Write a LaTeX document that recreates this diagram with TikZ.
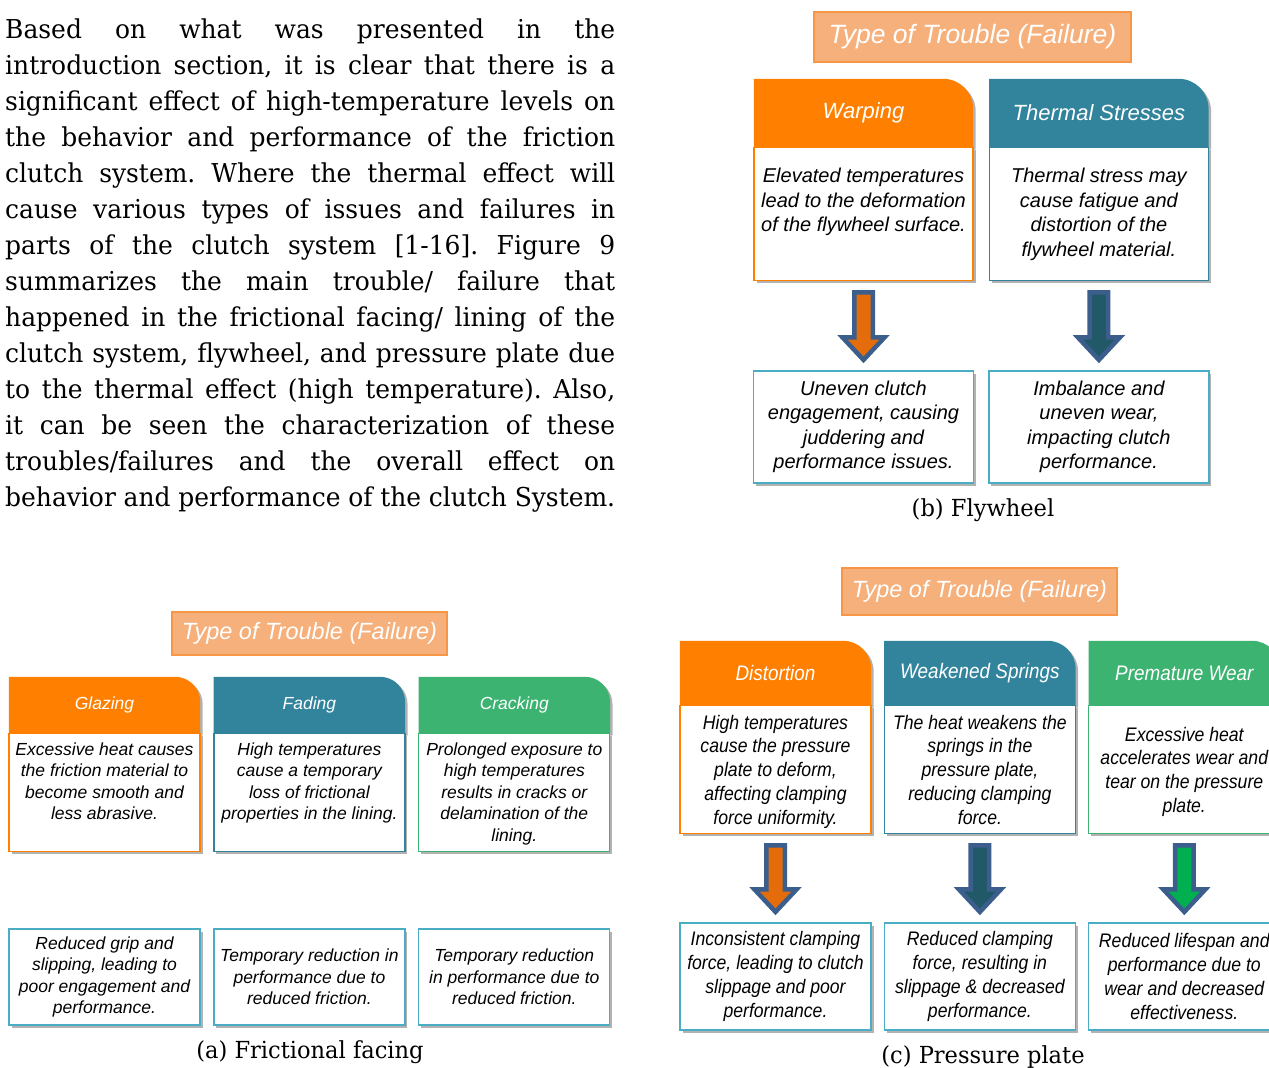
\documentclass[tikz,border=0pt]{standalone}
\usepackage{fontspec}
\setmainfont[FakeStretch=0.96]{DejaVu Serif}
\newfontfamily\cardsans{Liberation Sans}
\newfontfamily\cardnarrow[FakeStretch=0.9]{Liberation Sans}
\usepackage{xcolor}
\usepackage{tikz}
\usetikzlibrary{
    positioning,
    calc,
    backgrounds,
    shadows
}
\frenchspacing
\definecolor{trorange}{HTML}{FF8000}
\definecolor{trteal}{HTML}{31849B}
\definecolor{trgreen}{HTML}{3CB371}
\definecolor{trtitle}{HTML}{F5B07C}
\definecolor{trtitleedge}{HTML}{F79646}
\definecolor{trblue}{HTML}{4BACC6}
\definecolor{trarrow}{HTML}{3B5E8C}
\definecolor{trarroworange}{HTML}{E46C0A}
\definecolor{trarrowteal}{HTML}{215968}
\definecolor{trarrowgreen}{HTML}{00B050}
\tikzset{
    % Line of the text column
    paraline/.style={
        anchor=base west,
        inner sep=0pt,
        font=\fontsize{26}{36}\selectfont
    },
    % Sub-figure caption
    subcaption/.style={
        inner sep=0pt,
        font=\fontsize{23.5}{27}\selectfont
    },
    % Soft shadow
    cardshadow/.style={
        drop shadow={shadow xshift=2.5pt, shadow yshift=-2.5pt, opacity=0.3, fill=black}
    },
    % Type of Trouble banner
    troubletitle/.style={
        rectangle,
        draw=trtitleedge,
        fill=trtitle,
        line width=1.2pt,
        text=white,
        inner sep=0pt
    },
    % Card header (its fill is on the background layer)
    cardhead/.style={
        rectangle,
        inner sep=0pt,
        text=white
    },
    % Card body
    cardbody/.style={
        rectangle,
        draw=#1,
        line width=1.2pt,
        fill=white,
        inner sep=0pt,
        cardshadow
    },
    cardbody/.default=trorange,
    % Text inside a card body
    cardtext/.style={
        inner sep=0pt,
        align=center
    },
    % Effect box
    effectbox/.style={
        rectangle,
        draw=trblue,
        line width=1.2pt,
        fill=white,
        inner sep=0pt,
        align=center,
        cardshadow
    },
    % Block arrow
    heatarrow/.style={
        draw=trarrow,
        line width=4.5pt,
        line join=miter
    },
    % Flywheel panel
    fwtitle/.style={troubletitle, minimum width=317pt, minimum height=50pt,
        font=\cardsans\itshape\fontsize{26.5}{30}\selectfont},
    fwhead/.style={cardhead, minimum width=219pt, minimum height=68pt,
        font=\cardsans\itshape\fontsize{22}{26}\selectfont},
    fwbody/.style={cardbody=#1, minimum width=219pt, minimum height=133pt},
    fwtext/.style={cardtext, font=\cardsans\itshape\fontsize{20}{24.5}\selectfont},
    fweffect/.style={effectbox, minimum width=220pt, minimum height=112pt,
        font=\cardsans\itshape\fontsize{20}{24.5}\selectfont},
    % Frictional facing panel
    fftitle/.style={troubletitle, minimum width=275pt, minimum height=43pt,
        font=\cardsans\itshape\fontsize{23.5}{27}\selectfont},
    ffhead/.style={cardhead, minimum width=191pt, minimum height=56pt,
        font=\cardsans\itshape\fontsize{17.5}{21}\selectfont},
    ffbody/.style={cardbody=#1, minimum width=191pt, minimum height=118pt},
    fftext/.style={cardtext, font=\cardsans\itshape\fontsize{17.5}{21.5}\selectfont},
    ffeffect/.style={effectbox, minimum width=191pt, minimum height=96pt,
        font=\cardsans\itshape\fontsize{17.5}{21.5}\selectfont},
    % Pressure plate panel
    pptitle/.style={troubletitle, minimum width=275pt, minimum height=47pt,
        font=\cardsans\itshape\fontsize{23.5}{27}\selectfont},
    pphead/.style={cardhead, minimum width=191pt, minimum height=64pt,
        font=\cardnarrow\itshape\fontsize{21}{24}\selectfont},
    ppbody/.style={cardbody=#1, minimum width=191pt, minimum height=128pt},
    pptext/.style={cardtext, font=\cardnarrow\itshape\fontsize{19.6}{23.8}\selectfont},
    ppeffect/.style={effectbox, minimum width=191pt, minimum height=107pt,
        font=\cardnarrow\itshape\fontsize{19.6}{23.8}\selectfont}
}
% block arrow from a card body down to its effect box
\newcommand{\heatarrow}[3]{%
    \draw[heatarrow, fill=#3]
        ($(#1.south)+(-9.25,-11)$) -- ($(#2.north)+(-9.25,33)$)
        -- ($(#2.north)+(-21,33)$) -- ($(#2.north)+(0,10.5)$)
        -- ($(#2.north)+(21,33)$) -- ($(#2.north)+(9.25,33)$)
        -- ($(#1.south)+(9.25,-11)$) -- cycle;}

\begin{document}
\begin{tikzpicture}[x=1pt, y=1pt]
    \useasboundingbox (0,0) rectangle (1269,-1068);

    % text column
    \foreach \paratext [count=\i from 0] in {
        {Based on what was presented in the},
        {introduction section, it is clear that there is a},
        {significant effect of high-temperature levels on},
        {the behavior and performance of the friction},
        {clutch system. Where the thermal effect will},
        {cause various types of issues and failures in},
        {parts of the clutch system [1-16]. Figure 9},
        {summarizes the main trouble/ failure that},
        {happened in the frictional facing/ lining of the},
        {clutch system, flywheel, and pressure plate due},
        {to the thermal effect (high temperature). Also,},
        {it can be seen the characterization of these},
        {troubles/failures and the overall effect on},
        {behavior and performance of the clutch System.}}
        \node[paraline] (line\i) at (5,{-38-36*\i}) {\makebox[610pt][s]{\paratext}};

    % (b) Flywheel
    \node[fwtitle] (fw-title) at (972.5,-37) {Type of Trouble (Failure)};
    \node[fwhead] (fw-warp) at (863.5,-113) {Warping};
    \node[fwhead, right=16pt of fw-warp] (fw-therm) {Thermal Stresses};
    \node[fwbody=trorange, below=0pt of fw-warp] (fw-warp-body) {};
    \node[fwbody=trteal, below=0pt of fw-therm] (fw-therm-body) {};
    \node[fwtext, below=21pt of fw-warp-body.north] (fw-warp-text) {Elevated temperatures\\lead to the deformation\\of the flywheel surface.};
    \node[fwtext, below=21pt of fw-therm-body.north] (fw-therm-text) {Thermal stress may\\cause fatigue and\\distortion of the\\flywheel material.};
    \node[fweffect, below=89pt of fw-warp-body] (fw-warp-eff) {Uneven clutch\\engagement, causing\\juddering and\\performance issues.};
    \node[fweffect, below=89pt of fw-therm-body] (fw-therm-eff) {Imbalance and\\uneven wear,\\impacting clutch\\performance.};
    \heatarrow{fw-warp-body}{fw-warp-eff}{trarroworange}
    \heatarrow{fw-therm-body}{fw-therm-eff}{trarrowteal}
    \node[subcaption] (fw-cap) at (983,-510) {(b) Flywheel};

    % (a) Frictional facing
    \node[fftitle] (ff-title) at (309.5,-633.5) {Type of Trouble (Failure)};
    \node[ffhead] (ff-glaze) at (104.5,-705) {Glazing};
    \node[ffhead, right=13.5pt of ff-glaze] (ff-fade) {Fading};
    \node[ffhead, right=13.5pt of ff-fade] (ff-crack) {Cracking};
    \node[ffbody=trorange, below=0pt of ff-glaze] (ff-glaze-body) {};
    \node[ffbody=trteal, below=0pt of ff-fade] (ff-fade-body) {};
    \node[ffbody=trgreen, below=0pt of ff-crack] (ff-crack-body) {};
    \node[fftext, below=9pt of ff-glaze-body.north] (ff-glaze-text) {Excessive heat causes\\the friction material to\\become smooth and\\less abrasive.};
    \node[fftext, below=9pt of ff-fade-body.north] (ff-fade-text) {High temperatures\\cause a temporary\\loss of frictional\\properties in the lining.};
    \node[fftext, below=9pt of ff-crack-body.north] (ff-crack-text) {Prolonged exposure to\\high temperatures\\results in cracks or\\delamination of the\\lining.};
    \node[ffeffect, below=76pt of ff-glaze-body] (ff-glaze-eff) {Reduced grip and\\slipping, leading to\\poor engagement and\\performance.};
    \node[ffeffect, below=76pt of ff-fade-body] (ff-fade-eff) {Temporary reduction in\\performance due to\\reduced friction.};
    \node[ffeffect, below=76pt of ff-crack-body] (ff-crack-eff) {Temporary reduction\\in performance due to\\reduced friction.};
    \node[subcaption] (ff-cap) at (310,-1052) {(a) Frictional facing};

    % (c) Pressure plate
    \node[pptitle] (pp-title) at (979.5,-591.5) {Type of Trouble (Failure)};
    \node[pphead] (pp-dist) at (775.5,-673) {Distortion};
    \node[pphead, right=13pt of pp-dist] (pp-spring) {Weakened Springs};
    \node[pphead, right=13pt of pp-spring] (pp-wear) {Premature Wear};
    \node[ppbody=trorange, below=0pt of pp-dist] (pp-dist-body) {};
    \node[ppbody=trteal, below=0pt of pp-spring] (pp-spring-body) {};
    \node[ppbody=trgreen, below=0pt of pp-wear] (pp-wear-body) {};
    \node[pptext, below=9.5pt of pp-dist-body.north] (pp-dist-text) {High temperatures\\cause the pressure\\plate to deform,\\affecting clamping\\force uniformity.};
    \node[pptext, below=9.5pt of pp-spring-body.north] (pp-spring-text) {The heat weakens the\\springs in the\\pressure plate,\\reducing clamping\\force.};
    \node[pptext, below=21.5pt of pp-wear-body.north] (pp-wear-text) {Excessive heat\\accelerates wear and\\tear on the pressure\\plate.};
    \node[ppeffect, below=88pt of pp-dist-body] (pp-dist-eff) {Inconsistent clamping\\force, leading to clutch\\slippage and poor\\performance.};
    \node[ppeffect, below=88pt of pp-spring-body] (pp-spring-eff) {Reduced clamping\\force, resulting in\\slippage \& decreased\\performance.};
    \node[ppeffect, below=88pt of pp-wear-body] (pp-wear-eff) {Reduced lifespan and\\performance due to\\wear and decreased\\effectiveness.};
    \heatarrow{pp-dist-body}{pp-dist-eff}{trarroworange}
    \heatarrow{pp-spring-body}{pp-spring-eff}{trarrowteal}
    \heatarrow{pp-wear-body}{pp-wear-eff}{trarrowgreen}
    \node[subcaption] (pp-cap) at (983,-1057) {(c) Pressure plate};

    % header fills with one rounded corner
    \begin{scope}[on background layer]
        \foreach \hd/\col/\rad in {fw-warp/trorange/30pt, fw-therm/trteal/30pt,
                ff-glaze/trorange/25pt, ff-fade/trteal/25pt, ff-crack/trgreen/25pt,
                pp-dist/trorange/28pt, pp-spring/trteal/28pt, pp-wear/trgreen/28pt}
            \fill[\col, cardshadow] (\hd.south west) -- (\hd.north west)
                -- ([xshift=-\rad]\hd.north east) arc[start angle=90, end angle=0, radius=\rad]
                -- (\hd.south east) -- cycle;
    \end{scope}
\end{tikzpicture}
\end{document}
